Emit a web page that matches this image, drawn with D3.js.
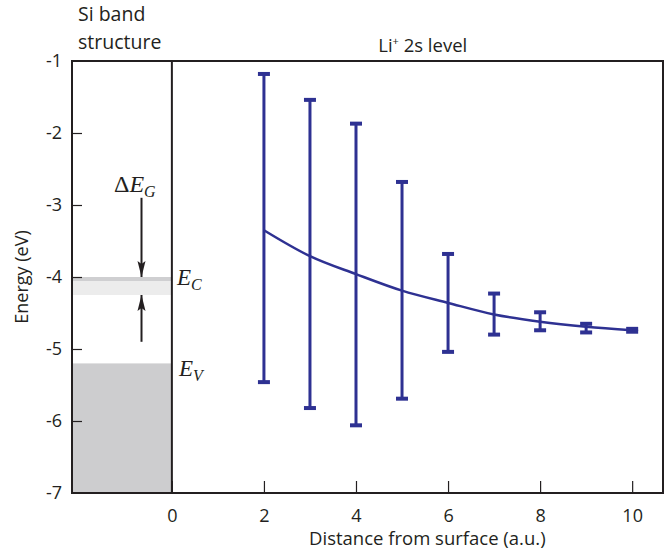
<!DOCTYPE html>
<html>
<head>
<meta charset="utf-8">
<script src="https://cdn.jsdelivr.net/npm/d3@7"></script>
<style>
  body { margin: 0; background: #fff; }
  text { font-family: "Open Sans", "Noto Sans", sans-serif; fill: #231f20; }
  .math { font-family: "Liberation Serif", "DejaVu Serif", serif; font-style: italic; }
</style>
</head>
<body>
<div id="chart"></div>
<script>
// Li+ 2s level vs distance from the surface
var distance = [2, 3, 4, 5, 6, 7, 8, 9, 10],
    level    = [-3.35, -3.71, -3.96, -4.19, -4.36, -4.52, -4.62, -4.69, -4.74],
    levelTop = [-1.18, -1.54, -1.87, -2.68, -3.68, -4.23, -4.49, -4.65, -4.72],
    levelBot = [-5.46, -5.82, -6.06, -5.69, -5.04, -4.80, -4.74, -4.77, -4.76];

// Si band edges
var bandEc = -4.0, bandEcLow = -4.25, bandEv = -5.2;

var xTicks = [0, 2, 4, 6, 8, 10],
    yTicks = [-1, -2, -3, -4, -5, -6, -7];

var margin = {top: 61, right: 8, bottom: 57, left: 72},
    width = 671 - margin.left - margin.right,
    height = 550 - margin.top - margin.bottom,
    blue = "#2e3192";

var svg = d3.select("#chart").append("svg")
    .attr("width", 671)
    .attr("height", 550)
    .append("g")
    .attr("transform", "translate(" + margin.left + "," + margin.top + ")");

var x = d3.scaleLinear().domain([-2.17, 10.67]).range([0, width]);
var y = d3.scaleLinear().domain([-7, -1]).range([height, 0]);

// band structure shading
svg.append("rect")
    .attr("x", 0).attr("width", x(0))
    .attr("y", y(bandEv)).attr("height", y(-7) - y(bandEv))
    .style("fill", "#cdcdcf");
svg.append("rect")
    .attr("x", 0).attr("width", x(0))
    .attr("y", y(bandEc)).attr("height", y(bandEcLow) - y(bandEc))
    .style("fill", "#ececec");
svg.append("rect")
    .attr("x", 0).attr("width", x(0))
    .attr("y", y(bandEc)).attr("height", 4)
    .style("fill", "#cfcfd1");

// frame + ticks
svg.append("rect")
    .attr("width", width).attr("height", height)
    .style("fill", "none").style("stroke", "#231f20").style("stroke-width", 2);
svg.append("line")
    .attr("x1", x(0)).attr("x2", x(0)).attr("y1", 0).attr("y2", height)
    .style("stroke", "#231f20").style("stroke-width", 2);

var xAxis = svg.append("g")
    .attr("transform", "translate(0," + height + ")")
    .call(d3.axisBottom(x).tickValues(xTicks).tickSize(-12).tickPadding(16).tickFormat(d3.format("d")));
var yAxis = svg.append("g")
    .call(d3.axisLeft(y).tickValues(yTicks).tickSize(-10).tickPadding(10).tickFormat(function(d) { return "-" + Math.abs(d); }));
[xAxis, yAxis].forEach(function(a) {
    a.select(".domain").remove();
    a.selectAll("line").style("stroke", "#231f20").style("stroke-width", 1.2);
    a.selectAll("text").style("font-size", "18px").style("fill", "#231f20")
        .style("font-family", "'Open Sans', 'Noto Sans', sans-serif");
});
yAxis.selectAll(".tick line").filter(function(d) { return d == -1 || d == -7; }).remove();
xAxis.selectAll("text").attr("y", 0).attr("dy", 0).attr("transform", "translate(0,29)");

// error bars
var cap = 12;
distance.forEach(function(d, i) {
    svg.append("line")
        .attr("x1", x(d)).attr("x2", x(d))
        .attr("y1", y(levelTop[i])).attr("y2", y(levelBot[i]))
        .style("stroke", blue).style("stroke-width", 3);
    [levelTop[i], levelBot[i]].forEach(function(v) {
        svg.append("line")
            .attr("x1", x(d) - cap / 2).attr("x2", x(d) + cap / 2)
            .attr("y1", y(v)).attr("y2", y(v))
            .style("stroke", blue).style("stroke-width", 4);
    });
});

var line = d3.line()
    .x(function(d) { return x(d[0]); })
    .y(function(d) { return y(d[1]); })
    .curve(d3.curveMonotoneX);
svg.append("path")
    .datum(distance.map(function(d, i) { return [d, level[i]]; }))
    .attr("d", line)
    .style("fill", "none").style("stroke", blue).style("stroke-width", 2.5);

// band gap arrows
svg.append("defs").append("marker")
    .attr("id", "arrow").attr("viewBox", "0 0 10 16")
    .attr("refX", 16).attr("refY", 5)
    .attr("markerWidth", 16).attr("markerHeight", 10)
    .attr("markerUnits", "userSpaceOnUse")
    .attr("orient", "auto")
    .attr("viewBox", "0 0 16 10")
    .append("path").attr("d", "M0,1 L16,5 L0,9 L3,5 Z").style("fill", "#231f20");
var ax = x(-0.66);
svg.append("line")
    .attr("x1", ax).attr("x2", ax).attr("y1", y(-2.9)).attr("y2", y(bandEc))
    .style("stroke", "#231f20").style("stroke-width", 2).attr("marker-end", "url(#arrow)");
svg.append("line")
    .attr("x1", ax).attr("x2", ax).attr("y1", y(-4.9)).attr("y2", y(bandEcLow))
    .style("stroke", "#231f20").style("stroke-width", 2).attr("marker-end", "url(#arrow)");

// math labels
var dE = svg.append("text").attr("class", "math")
    .attr("x", 42).attr("y", 131).style("font-size", "24px");
dE.append("tspan").style("font-style", "normal").text("Δ");
dE.append("tspan").text("E");
dE.append("tspan").attr("dy", 5).style("font-size", "16px").text("G");

var ec = svg.append("text").attr("class", "math")
    .attr("x", x(0) + 5).attr("y", 224).style("font-size", "23px");
ec.append("tspan").text("E");
ec.append("tspan").attr("dy", 5).style("font-size", "16px").text("C");

var ev = svg.append("text").attr("class", "math")
    .attr("x", x(0) + 7).attr("y", 315).style("font-size", "23px");
ev.append("tspan").text("E");
ev.append("tspan").attr("dy", 5).style("font-size", "16px").text("V");

// titles
svg.append("text").attr("x", 6).attr("y", -40).style("font-size", "19.5px").text("Si band");
svg.append("text").attr("x", 6).attr("y", -12).style("font-size", "19.5px").text("structure");
var li = svg.append("text").attr("x", x(5.45)).attr("y", -9)
    .attr("text-anchor", "middle").style("font-size", "18.5px");
li.append("tspan").text("Li");
li.append("tspan").attr("dy", -7).style("font-size", "11px").text("+");
li.append("tspan").attr("dy", 7).text(" 2s level");

// axis labels
svg.append("text")
    .attr("x", x(5.55)).attr("y", height + 52)
    .attr("text-anchor", "middle").style("font-size", "18.5px")
    .text("Distance from surface (a.u.)");
svg.append("text")
    .attr("transform", "translate(-44," + (height / 2) + ") rotate(-90)")
    .attr("text-anchor", "middle").style("font-size", "18px")
    .text("Energy (eV)");
</script>
</body>
</html>
